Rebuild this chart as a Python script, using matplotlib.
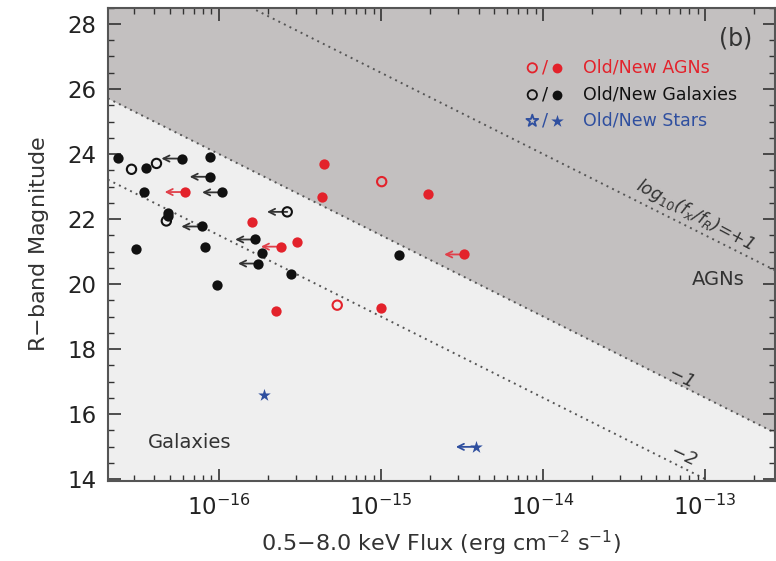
import numpy as np
import matplotlib
matplotlib.use('Agg')
import matplotlib.pyplot as plt
from matplotlib.ticker import NullFormatter, LogLocator, FixedLocator

# new galaxies (filled black); lim = flux upper limit (arrow)
gal_new_fx = [2.39e-17, 3.53e-17, 5.89e-17, 8.8e-17, 8.8e-17, 3.44e-17, 1.05e-16, 4.84e-17, 4.84e-17,
              7.82e-17, 3.08e-17, 8.2e-17, 9.8e-17, 1.68e-16, 1.85e-16, 1.75e-16, 2.77e-16, 1.30e-15]
gal_new_R = [23.89, 23.56, 23.86, 23.92, 23.30, 22.82, 22.82, 22.18, 22.09,
             21.77, 21.07, 21.15, 19.97, 21.37, 20.96, 20.63, 20.31, 20.89]
gal_new_lim = [0, 0, 1, 0, 1, 0, 1, 0, 0, 1, 0, 0, 0, 1, 0, 1, 0, 0]

# old galaxies (open black)
gal_old_fx = [2.89e-17, 4.12e-17, 4.74e-17, 2.64e-16]
gal_old_R = [23.53, 23.71, 21.94, 22.22]
gal_old_lim = [0, 0, 0, 1]

# new AGNs (filled red)
agn_new_fx = [6.17e-17, 4.45e-16, 4.33e-16, 1.94e-15, 1.60e-16, 3.02e-16, 2.42e-16, 3.27e-15, 9.96e-16, 2.25e-16]
agn_new_R = [22.83, 23.68, 22.68, 22.78, 21.90, 21.30, 21.15, 20.91, 19.27, 19.18]
agn_new_lim = [1, 0, 0, 0, 0, 0, 1, 1, 0, 0]

# old AGNs (open red)
agn_old_fx = [1.01e-15, 5.37e-16]
agn_old_R = [23.15, 19.35]

# new stars (filled blue)
star_new_fx = [1.91e-16, 3.86e-15]
star_new_R = [16.58, 14.99]
star_new_lim = [0, 1]

# log10(fx/fR) lines
ratio_levels = [1, -1, -2]
zp = 5.4

x_ticks = [1e-16, 1e-15, 1e-14, 1e-13]
y_ticks = [14, 16, 18, 20, 22, 24, 26, 28]

red = '#e3222b'
blue = '#2f4f9f'
blk = '#111111'

plt.figure(figsize=(7.76, 5.61), dpi=100)
ax = plt.axes([0.139, 0.1426, 0.86, 0.8436])
ax.set_xscale('log')
xmin, xmax = 10**-16.685, 10**-12.568
ymin, ymax = 13.94, 28.5
ax.set_xlim(xmin, xmax)
ax.set_ylim(ymin, ymax)
ax.set_facecolor('#efefef')


def r_line(c, fx):
    return 2.5 * (c - zp - np.log10(fx))


xx = np.logspace(np.log10(xmin), np.log10(xmax), 200)
ax.fill_between(xx, r_line(-1, xx), ymax, color='#c3c0c0', lw=0, zorder=0)
for c in ratio_levels:
    ax.plot(xx, r_line(c, xx), color='#555555', lw=1.4, ls=(0, (1, 2.2)), zorder=1)


def limits(fx, R, lim, col):
    for f, r, l in zip(fx, R, lim):
        if l:
            ax.annotate('', xy=(f * 0.75, r), xytext=(f, r),
                        arrowprops=dict(arrowstyle='->', color=col, lw=1.3,
                                        shrinkA=0, shrinkB=0, mutation_scale=11),
                        zorder=2)


limits(gal_new_fx, gal_new_R, gal_new_lim, '#333333')
limits(gal_old_fx, gal_old_R, gal_old_lim, '#333333')
limits(agn_new_fx, agn_new_R, agn_new_lim, '#e0404a')
limits(star_new_fx, star_new_R, star_new_lim, blue)

ax.scatter(gal_new_fx, gal_new_R, s=55, color=blk, lw=0, zorder=3)
ax.scatter(gal_old_fx, gal_old_R, s=45, facecolor='none', edgecolor=blk, lw=1.5, zorder=3)
ax.scatter(agn_new_fx, agn_new_R, s=55, color=red, lw=0, zorder=3)
ax.scatter(agn_old_fx, agn_old_R, s=45, facecolor='none', edgecolor=red, lw=1.5, zorder=3)
ax.scatter(star_new_fx, star_new_R, s=90, marker='*', color=blue, lw=0, zorder=3)

ax.set_yticks(y_ticks)
ax.set_yticks(np.arange(14, 28.6, 0.5), minor=True)
ax.xaxis.set_major_locator(FixedLocator(x_ticks))
ax.xaxis.set_minor_locator(LogLocator(base=10, subs=np.arange(2, 10)))
ax.xaxis.set_minor_formatter(NullFormatter())
ax.tick_params(which='both', direction='in', top=True, right=True, labelsize=16.5,
               colors='#333333', labelcolor='#222222')
ax.tick_params(which='major', length=9, width=1.2)
ax.tick_params(which='minor', length=4.5, width=1.0)
ax.tick_params(axis='x', pad=10)
ax.tick_params(axis='y', pad=8)
for s in ax.spines.values():
    s.set_color('#555555')
    s.set_linewidth(1.5)

ax.set_xlabel('0.5$-$8.0 keV Flux (erg cm$^{-2}$ s$^{-1}$)', fontsize=16, color='#333333', labelpad=6)
ax.set_ylabel('R$-$band Magnitude', fontsize=16, color='#333333', labelpad=12)

# legend
rows = [(0.873, red, 'o', 'Old/New AGNs'),
        (0.816, blk, 'o', 'Old/New Galaxies'),
        (0.761, blue, '*', 'Old/New Stars')]
for y, col, m, lab in rows:
    ax.scatter([0.636], [y], transform=ax.transAxes, s=80 if m == '*' else 45, marker=m,
               facecolor='none', edgecolor=col, lw=1.3, zorder=4, clip_on=False)
    ax.text(0.6545, y, '/', transform=ax.transAxes, color=col, fontsize=13, ha='center', va='center')
    ax.scatter([0.673], [y], transform=ax.transAxes, s=90 if m == '*' else 50, marker=m,
               color=col, lw=0, zorder=4)
    ax.text(0.712, y, lab, transform=ax.transAxes, color=col, fontsize=12.5, ha='left', va='center')

ax.text(0.94, 0.936, '(b)', transform=ax.transAxes, fontsize=17, ha='center', va='center', color='#333333')
ax.text(0.915, 0.425, 'AGNs', transform=ax.transAxes, fontsize=14, ha='center', va='center', color='#333333')
ax.text(0.123, 0.082, 'Galaxies', transform=ax.transAxes, fontsize=14, ha='center', va='center', color='#333333')
ax.text(0.88, 0.562, r'log$_{10}$(f$_x$/f$_R$)=+1', transform=ax.transAxes, fontsize=12.5,
        rotation=-28, ha='center', va='center', color='#333333', style='italic')
ax.text(0.858, 0.22, '$-$1', transform=ax.transAxes, fontsize=13, rotation=-25,
        ha='center', va='center', color='#333333', style='italic')
ax.text(0.862, 0.055, '$-$2', transform=ax.transAxes, fontsize=13, rotation=-25,
        ha='center', va='center', color='#333333', style='italic')

plt.savefig('out.png', dpi=100)
